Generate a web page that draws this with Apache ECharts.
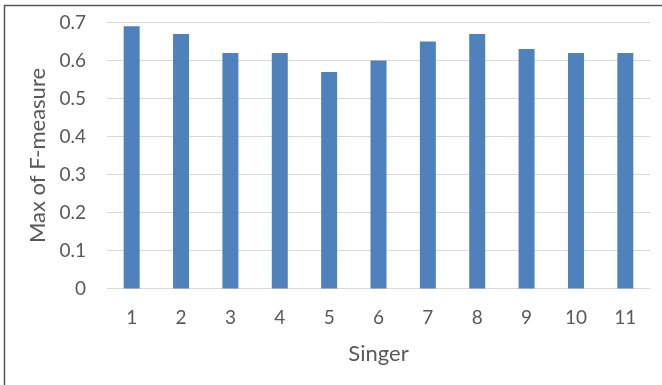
<!DOCTYPE html>
<html>
<head>
<meta charset="utf-8">
<script src="https://cdn.jsdelivr.net/npm/echarts@6/dist/echarts.min.js"></script>
<style>
  html, body { margin: 0; padding: 0; background: #fff; }
  #chart { width: 662px; height: 385px; }
</style>
</head>
<body>
<div id="chart"></div>
<script>
// Singer index along the x axis
const singers = ['1', '2', '3', '4', '5', '6', '7', '8', '9', '10', '11'];
// Best F-measure reached for each singer
const maxFMeasure = [0.69, 0.67, 0.62, 0.62, 0.57, 0.60, 0.65, 0.67, 0.63, 0.62, 0.62];

const textColor = '#595959';
const fontFamily = 'Lato, Open Sans, sans-serif';

const chart = echarts.init(document.getElementById('chart'), null, { renderer: 'canvas' });
chart.setOption({
  animation: false,
  backgroundColor: '#fff',
  graphic: [{
    type: 'rect',
    shape: { x: 4.5, y: 5.5, width: 700, height: 400 },
    style: { fill: 'none', stroke: '#555', lineWidth: 1.5 },
    silent: true
  }],
  grid: { left: 107, right: 12, top: 22.5, bottom: 96.5, containLabel: false },
  xAxis: {
    type: 'category',
    data: singers,
    name: 'Singer',
    nameLocation: 'middle',
    nameGap: 54,
    nameTextStyle: { color: textColor, fontSize: 22, fontFamily },
    axisLine: { show: false },
    axisTick: { show: false },
    axisLabel: { color: textColor, fontSize: 19, fontFamily, margin: 20 }
  },
  yAxis: {
    type: 'value',
    min: 0,
    max: 0.7,
    interval: 0.1,
    name: 'Max of F-measure',
    nameLocation: 'middle',
    nameGap: 58,
    nameRotate: 90,
    nameTextStyle: { color: textColor, fontSize: 22, fontFamily },
    axisLine: { show: false },
    axisTick: { show: false },
    axisLabel: {
      color: textColor, fontSize: 19, fontFamily, margin: 21,
      formatter: v => (v === 0 ? '0' : v.toFixed(1))
    },
    splitLine: { lineStyle: { color: '#d9d9d9', width: 1 } }
  },
  series: [{
    type: 'bar',
    data: maxFMeasure,
    barWidth: 16,
    itemStyle: { color: '#4f81bd' }
  }]
});
</script>
</body>
</html>
